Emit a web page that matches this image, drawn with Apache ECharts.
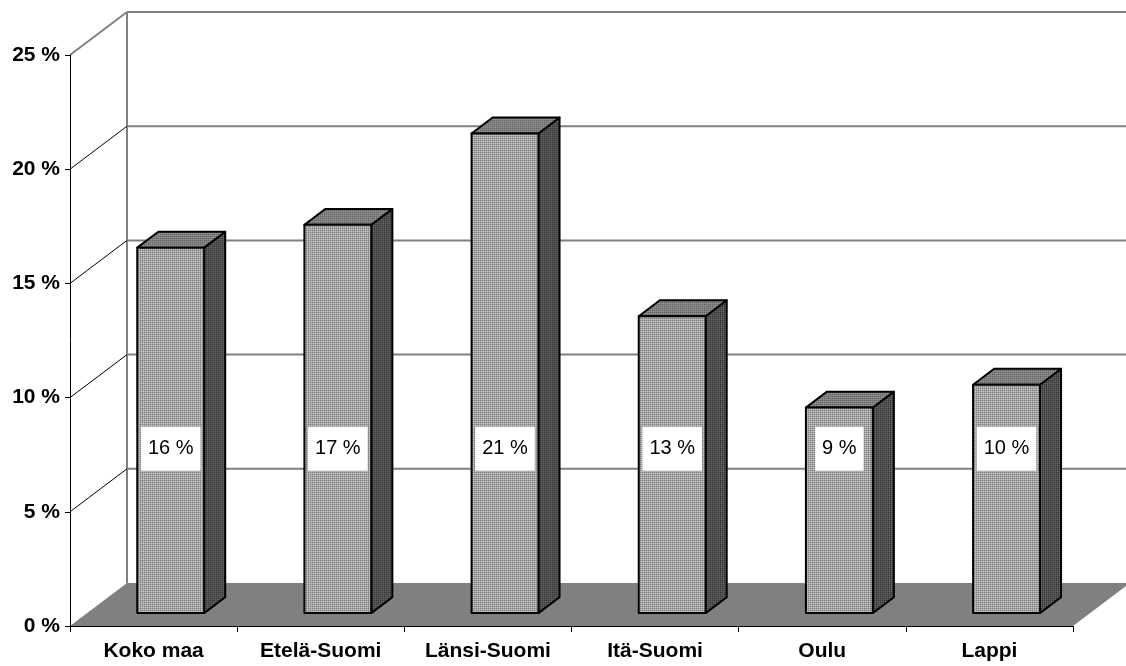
<!DOCTYPE html>
<html>
<head>
<meta charset="utf-8">
<script src="https://cdn.jsdelivr.net/npm/echarts@6/dist/echarts.min.js"></script>
<style>
  html, body { margin: 0; padding: 0; background: #fff; }
  #chart { width: 1126px; height: 666px; }
</style>
</head>
<body>
<div id="chart"></div>
<script>
// Regions and their shares (%)
const categories = ['Koko maa', 'Etelä-Suomi', 'Länsi-Suomi', 'Itä-Suomi', 'Oulu', 'Lappi'];
const shares = [16, 17, 21, 13, 9, 10];
const valueTicks = [0, 5, 10, 15, 20, 25];

// Pseudo-3D projection: full depth of the floor in pixels
const DEPTH_X = 57;
const DEPTH_Y = 43;
// Bars sit between these fractions of the depth
const BAR_FRONT = 0.30;
const BAR_BACK = 0.67;
const BAR_WIDTH = 0.4;      // share of the category band
const LABEL_LEVEL = 7.2;    // value height where the data labels sit
const FONT = "'Liberation Sans', Arial, sans-serif";

// Fine dotted fill textures for the bar faces
function dotPattern(light, mid, dark) {
  const c = document.createElement('canvas');
  c.width = 2; c.height = 2;
  const g = c.getContext('2d');
  g.fillStyle = mid; g.fillRect(0, 0, 2, 2);
  g.fillStyle = dark; g.fillRect(0, 0, 1, 1);
  g.fillStyle = light; g.fillRect(1, 1, 1, 1);
  return { image: c, repeat: 'repeat' };
}
const frontFill = dotPattern('#c4c4c4', '#a6a6a6', '#7c7c7c');
const sideFill = dotPattern('#666666', '#4e4e4e', '#363636');
const topFill = dotPattern('#959595', '#7e7e7e', '#646464');

function renderFrame(params, api) {
  const cs = params.coordSys;
  const L = cs.x, R = cs.x + cs.width;
  const y0 = api.coord([0, 0])[1];
  const yTop = api.coord([0, valueTicks[valueTicks.length - 1]])[1];
  const children = [];
  // floor
  children.push({
    type: 'polygon',
    shape: { points: [[L, y0], [R, y0], [R + DEPTH_X, y0 - DEPTH_Y], [L + DEPTH_X, y0 - DEPTH_Y]] },
    style: { fill: '#808080' }
  });
  // back wall left edge
  children.push({
    type: 'line',
    shape: { x1: L + DEPTH_X, y1: y0 - DEPTH_Y, x2: L + DEPTH_X, y2: yTop - DEPTH_Y },
    style: { stroke: '#808080', lineWidth: 2 }
  });
  valueTicks.forEach(function (v) {
    if (v === 0) return;
    const y = api.coord([0, v])[1];
    const isTop = v === valueTicks[valueTicks.length - 1];
    // back wall gridline
    children.push({
      type: 'line',
      shape: { x1: L + DEPTH_X, y1: y - DEPTH_Y, x2: R + DEPTH_X + 20, y2: y - DEPTH_Y },
      style: { stroke: '#808080', lineWidth: 2 }
    });
    // side wall gridline
    children.push({
      type: 'line',
      shape: { x1: L, y1: y, x2: L + DEPTH_X, y2: y - DEPTH_Y },
      style: { stroke: isTop ? '#808080' : '#000', lineWidth: isTop ? 2 : 1 }
    });
  });
  return { type: 'group', children: children };
}

function renderBar(params, api) {
  const i = api.value(0);
  const v = api.value(1);
  const base = api.coord([i, 0]);
  const top = api.coord([i, v]);
  const band = api.size([1, 0])[0];
  const w = band * BAR_WIDTH;
  const fx = DEPTH_X * BAR_FRONT, fy = DEPTH_Y * BAR_FRONT;
  const bx = DEPTH_X * (BAR_BACK - BAR_FRONT), by = DEPTH_Y * (BAR_BACK - BAR_FRONT);
  const x0 = base[0] - w / 2 + fx, x1 = x0 + w;
  const yb = base[1] - fy, yt = top[1] - fy;
  const edge = { stroke: '#000', lineWidth: 2, lineJoin: 'round' };
  const labelY = api.coord([i, LABEL_LEVEL])[1] - fy;
  return {
    type: 'group',
    children: [
      { type: 'polygon', shape: { points: [[x1, yb], [x1 + bx, yb - by], [x1 + bx, yt - by], [x1, yt]] },
        style: Object.assign({ fill: sideFill }, edge) },
      { type: 'polygon', shape: { points: [[x0, yt], [x0 + bx, yt - by], [x1 + bx, yt - by], [x1, yt]] },
        style: Object.assign({ fill: topFill }, edge) },
      { type: 'rect', shape: { x: x0, y: yt, width: w, height: yb - yt },
        style: Object.assign({ fill: frontFill }, edge) },
      { type: 'text', x: x0 + w / 2, y: labelY,
        style: {
          text: v + ' %', fill: '#000', font: '20px ' + FONT,
          align: 'center', verticalAlign: 'middle',
          backgroundColor: '#fff', padding: [12, 7, 12, 7]
        } }
    ]
  };
}

const chart = echarts.init(document.getElementById('chart'), null, { renderer: 'canvas' });
chart.setOption({
  animation: false,
  backgroundColor: '#fff',
  grid: { left: 70, right: 53, top: 55, bottom: 40, containLabel: false },
  xAxis: {
    type: 'category',
    data: categories,
    z: 10,
    axisLine: { show: true, lineStyle: { color: '#000', width: 1 } },
    axisTick: { show: true, length: 6, lineStyle: { color: '#000' } },
    axisLabel: { color: '#000', fontWeight: 'bold', fontSize: 21, fontFamily: FONT, margin: 15 },
    splitLine: { show: false }
  },
  yAxis: {
    type: 'value',
    min: 0, max: 25, interval: 5,
    z: 10,
    axisLine: { show: true, lineStyle: { color: '#000', width: 1 } },
    axisTick: { show: true, length: 5, lineStyle: { color: '#000' } },
    axisLabel: { color: '#000', fontWeight: 'bold', fontSize: 21, fontFamily: FONT, margin: 10,
      formatter: '{value} %' },
    splitLine: { show: false }
  },
  series: [
    { type: 'custom', z: 1, clip: false, silent: true, renderItem: renderFrame, data: [[0, 0]] },
    { type: 'custom', z: 2, clip: false, renderItem: renderBar,
      data: shares.map(function (s, i) { return [i, s]; }) }
  ]
});
</script>
</body>
</html>
